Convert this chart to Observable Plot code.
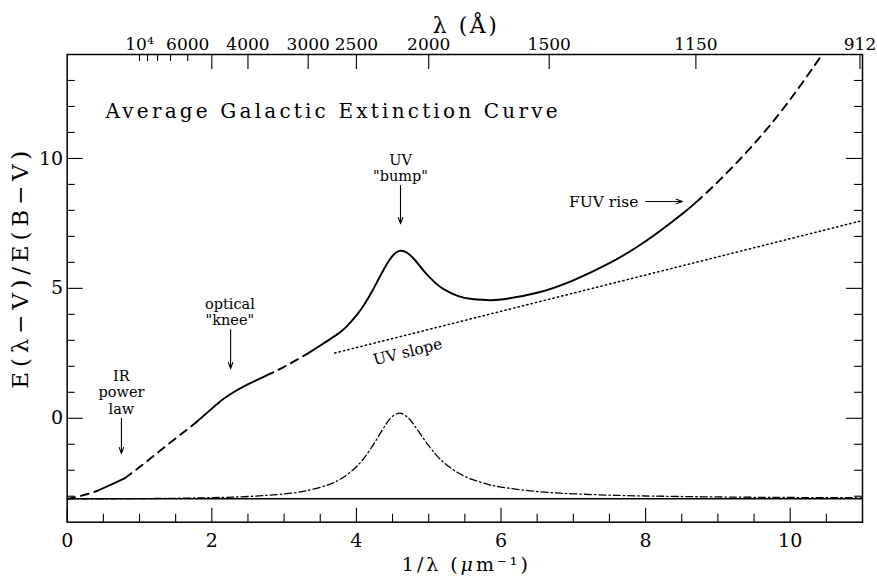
<!DOCTYPE html>
<html><head><meta charset="utf-8">
<script src="https://cdn.jsdelivr.net/npm/d3@7"></script>
<script src="https://cdn.jsdelivr.net/npm/@observablehq/plot@0.6"></script>
<style>body{margin:0;background:#fff;} svg{display:block}</style>
</head><body><div id="chart"></div>
<script>
// ---- data ----
const curveX = [0, 0.2, 0.41, 0.6, 0.8, 1.0, 1.2, 1.4, 1.6, 1.78, 2.0, 2.15, 2.3, 2.45, 2.6, 2.75, 3.0, 3.32, 3.5, 3.7, 3.85, 4.0, 4.1, 4.2, 4.3, 4.4, 4.5, 4.6, 4.7, 4.8, 4.9, 5.0, 5.1, 5.2, 5.4, 5.6, 5.8, 6.0, 6.5, 7.0, 7.5, 8.0, 8.5, 8.7, 9.0, 9.5, 10.0, 10.5];
const curveY = [-3.10, -2.98, -2.80, -2.56, -2.30, -1.88, -1.44, -0.99, -0.56, -0.16, 0.37, 0.72, 1.00, 1.24, 1.44, 1.64, 1.98, 2.48, 2.80, 3.16, 3.49, 3.96, 4.34, 4.80, 5.32, 5.83, 6.25, 6.44, 6.37, 6.12, 5.78, 5.46, 5.19, 4.98, 4.71, 4.59, 4.55, 4.57, 4.83, 5.31, 5.97, 6.81, 7.85, 8.32, 9.10, 10.56, 12.27, 14.23];
const segBreaks = [0, 0.41, 0.80, 1.78, 2.75, 3.32, 8.7, 11];
const segStyles = ["dash", "solid", "dash", "solid", "dash", "solid", "dash"];

const bumpX = [0, 0.5, 1, 1.5, 2, 2.5, 3, 3.3, 3.6, 3.8, 4.0, 4.2, 4.4, 4.5, 4.6, 4.7, 4.8, 5.0, 5.2, 5.4, 5.6, 5.8, 6.0, 6.5, 7, 7.5, 8, 9, 10, 11];
const bumpY = [-3.10, -3.098, -3.092, -3.080, -3.056, -3.011, -2.913, -2.795, -2.572, -2.307, -1.867, -1.163, -0.268, 0.074, 0.196, 0.059, -0.266, -1.057, -1.680, -2.089, -2.353, -2.527, -2.647, -2.820, -2.908, -2.959, -2.991, -3.029, -3.049, -3.061];

const slopeX = [3.7, 11];
const slopeY = [2.51, 7.61];
const baseLevel = -3.1;

const xMajorTicks = [0, 2, 4, 6, 8, 10];
const xMinorTicks = [0.5, 1, 1.5, 2.5, 3, 3.5, 4.5, 5, 5.5, 6.5, 7, 7.5, 8.5, 9, 9.5, 10.5];
const yMajorTicks = [0, 5, 10];
const yMinorTicks = [-3, -2, -1, 1, 2, 3, 4, 6, 7, 8, 9, 11, 12, 13];
const topShortWaves = [10000, 9000, 8000, 7000, 6000];
const topLongWaves = [5000, 4000, 3000, 2500, 2000, 1500, 1150, 912];
const topLabelWaves = [10000, 6000, 4000, 3000, 2500, 2000, 1500, 1150, 912];
const topLabelText = ["10⁴", "6000", "4000", "3000", "2500", "2000", "1500", "1150", "912"];

// annotation texts (one entry per line)
const noteText = ["UV", "\"bump\"", "optical", "\"knee\"", "IR", "power", "law"];
const noteX = [4.61, 4.61, 2.25, 2.25, 0.75, 0.75, 0.75];
const noteY = [9.92, 9.30, 4.38, 3.76, 1.60, 0.98, 0.36];

// ---- layout ----
const W = 877, H = 577;
const mL = 66.7, mR = 15, mT = 54, mB = 55.3;
const fW = W - mL - mR, fH = H - mT - mB;
const FONT = "DejaVu Serif";

const idx = curveX.map((_, i) => i);
const segMarks = segStyles.map((s, k) => {
  const a = segBreaks[k], b = segBreaks[k + 1];
  const pts = idx.filter(i => curveX[i] >= a - 1e-9 && curveX[i] <= b + 1e-9);
  return Plot.line(pts, {
    x: i => curveX[i], y: i => curveY[i], curve: "natural", clip: true,
    stroke: "#000", strokeWidth: 1.9,
    strokeDasharray: s === "dash" ? "8,6" : null
  });
});

const tk = {stroke: "#000", strokeWidth: 1.1};

const svg = Plot.plot({
  width: W, height: H,
  marginLeft: mL, marginRight: mR, marginTop: mT, marginBottom: mB,
  style: {fontFamily: FONT, background: "#fff", color: "#000", overflow: "visible"},
  x: {domain: [0, 11], axis: null},
  y: {domain: [-4, 14], axis: null},
  marks: [
    Plot.frame({stroke: "#000", strokeWidth: 1.5}),
    // bottom ticks
    Plot.ruleX(xMinorTicks, {x: d => d, insetTop: fH - 8, ...tk}),
    Plot.ruleX(xMajorTicks, {x: d => d, insetTop: fH - 14, ...tk}),
    // top ticks (wavelength)
    Plot.ruleX(topShortWaves, {x: d => 1e4 / d, insetBottom: fH - 7, ...tk}),
    Plot.ruleX(topLongWaves, {x: d => 1e4 / d, insetBottom: fH - 15, ...tk}),
    // left / right ticks
    Plot.ruleY(yMinorTicks, {y: d => d, insetRight: fW - 8, ...tk}),
    Plot.ruleY(yMajorTicks, {y: d => d, insetRight: fW - 16, ...tk}),
    Plot.ruleY(yMinorTicks, {y: d => d, insetLeft: fW - 8, ...tk}),
    Plot.ruleY(yMajorTicks, {y: d => d, insetLeft: fW - 16, ...tk}),
    // tick labels
    Plot.text(xMajorTicks, {x: d => d, text: d => String(d), frameAnchor: "bottom", lineAnchor: "middle", dy: 19, fontSize: 19, fill: "#000"}),
    Plot.text(yMajorTicks, {y: d => d, text: d => String(d), frameAnchor: "left", textAnchor: "end", lineAnchor: "middle", dx: -4, fontSize: 19, fill: "#000"}),
    Plot.text(topLabelWaves, {x: d => 1e4 / d, text: (d, i) => topLabelText[i], frameAnchor: "top", lineAnchor: "middle", dy: -10, fontSize: 17, fill: "#000"}),
    // axis titles
    Plot.text(["1/λ (μm⁻¹)"], {text: d => d, frameAnchor: "bottom", lineAnchor: "middle", dy: 43, fontSize: 19, fill: "#000"}),
    Plot.text(["λ (Å)"], {text: d => d, frameAnchor: "top", lineAnchor: "middle", dy: -29, fontSize: 22, fill: "#000"}),
    Plot.text(["E(λ−V)/E(B−V)"], {text: d => d, y: [5.72], frameAnchor: "left", textAnchor: "middle", lineAnchor: "middle", dx: -47, rotate: -90, fontSize: 23, fill: "#000"}),
    // reference line at -R
    Plot.ruleY([baseLevel], {stroke: "#000", strokeWidth: 1.5}),
    // bump profile (dash-dot)
    Plot.line(bumpX.map((_, i) => i), {x: i => bumpX[i], y: i => bumpY[i], curve: "natural", stroke: "#000", strokeWidth: 1.3, strokeDasharray: "7,3,1.5,3"}),
    // UV slope (dotted)
    Plot.line([0, 1], {x: i => slopeX[i], y: i => slopeY[i], stroke: "#000", strokeWidth: 1.5, strokeDasharray: "1.3,3.2"}),
    // main curve
    ...segMarks,
    // title
    Plot.text(["Average Galactic Extinction Curve"], {text: d => d, x: [0.53], y: [11.80], textAnchor: "start", fontSize: 20, fill: "#000"}),
    // annotations
    Plot.text(noteText, {text: d => d, x: (d, i) => noteX[i], y: (d, i) => noteY[i], fontSize: 14.5, fill: "#000"}),
    Plot.text(["FUV rise"], {text: d => d, x: [7.90], y: [8.34], textAnchor: "end", fontSize: 15.5, fill: "#000"}),
    Plot.text(["UV slope"], {text: d => d, x: [4.71], y: [2.55], rotate: -14, fontSize: 15.5, fill: "#000"}),
    Plot.arrow([0], {x1: 4.61, y1: 8.96, x2: 4.61, y2: 7.49, stroke: "#000", strokeWidth: 1.1, headLength: 9, headAngle: 40}),
    Plot.arrow([0], {x1: 2.26, y1: 3.41, x2: 2.26, y2: 1.91, stroke: "#000", strokeWidth: 1.1, headLength: 9, headAngle: 40}),
    Plot.arrow([0], {x1: 0.75, y1: 0.0, x2: 0.75, y2: -1.36, stroke: "#000", strokeWidth: 1.1, headLength: 9, headAngle: 40}),
    Plot.arrow([0], {x1: 8.0, y1: 8.34, x2: 8.51, y2: 8.34, stroke: "#000", strokeWidth: 1.1, headLength: 9, headAngle: 40})
  ]
});

// fine typographic adjustments (letter spacing of the wide original font)
d3.select(svg).selectAll("text").each(function () {
  const t = this.textContent;
  const sel = d3.select(this);
  if (t === "Average Galactic Extinction Curve") {
    sel.attr("textLength", 452).attr("lengthAdjust", "spacing");
  } else if (t === "E(λ−V)/E(B−V)") {
    sel.attr("textLength", 238).attr("lengthAdjust", "spacing");
  } else if (t === "λ (Å)") {
    sel.attr("textLength", 64).attr("lengthAdjust", "spacing");
  } else if (t === "1/λ (μm⁻¹)") {
    sel.text(null);
    sel.append("tspan").text("1/λ (");
    sel.append("tspan").attr("font-style", "italic").text("μ");
    sel.append("tspan").text("m⁻¹)");
    sel.attr("textLength", 126).attr("lengthAdjust", "spacing");
  }
});

document.getElementById("chart").appendChild(svg);
</script>
</body></html>
